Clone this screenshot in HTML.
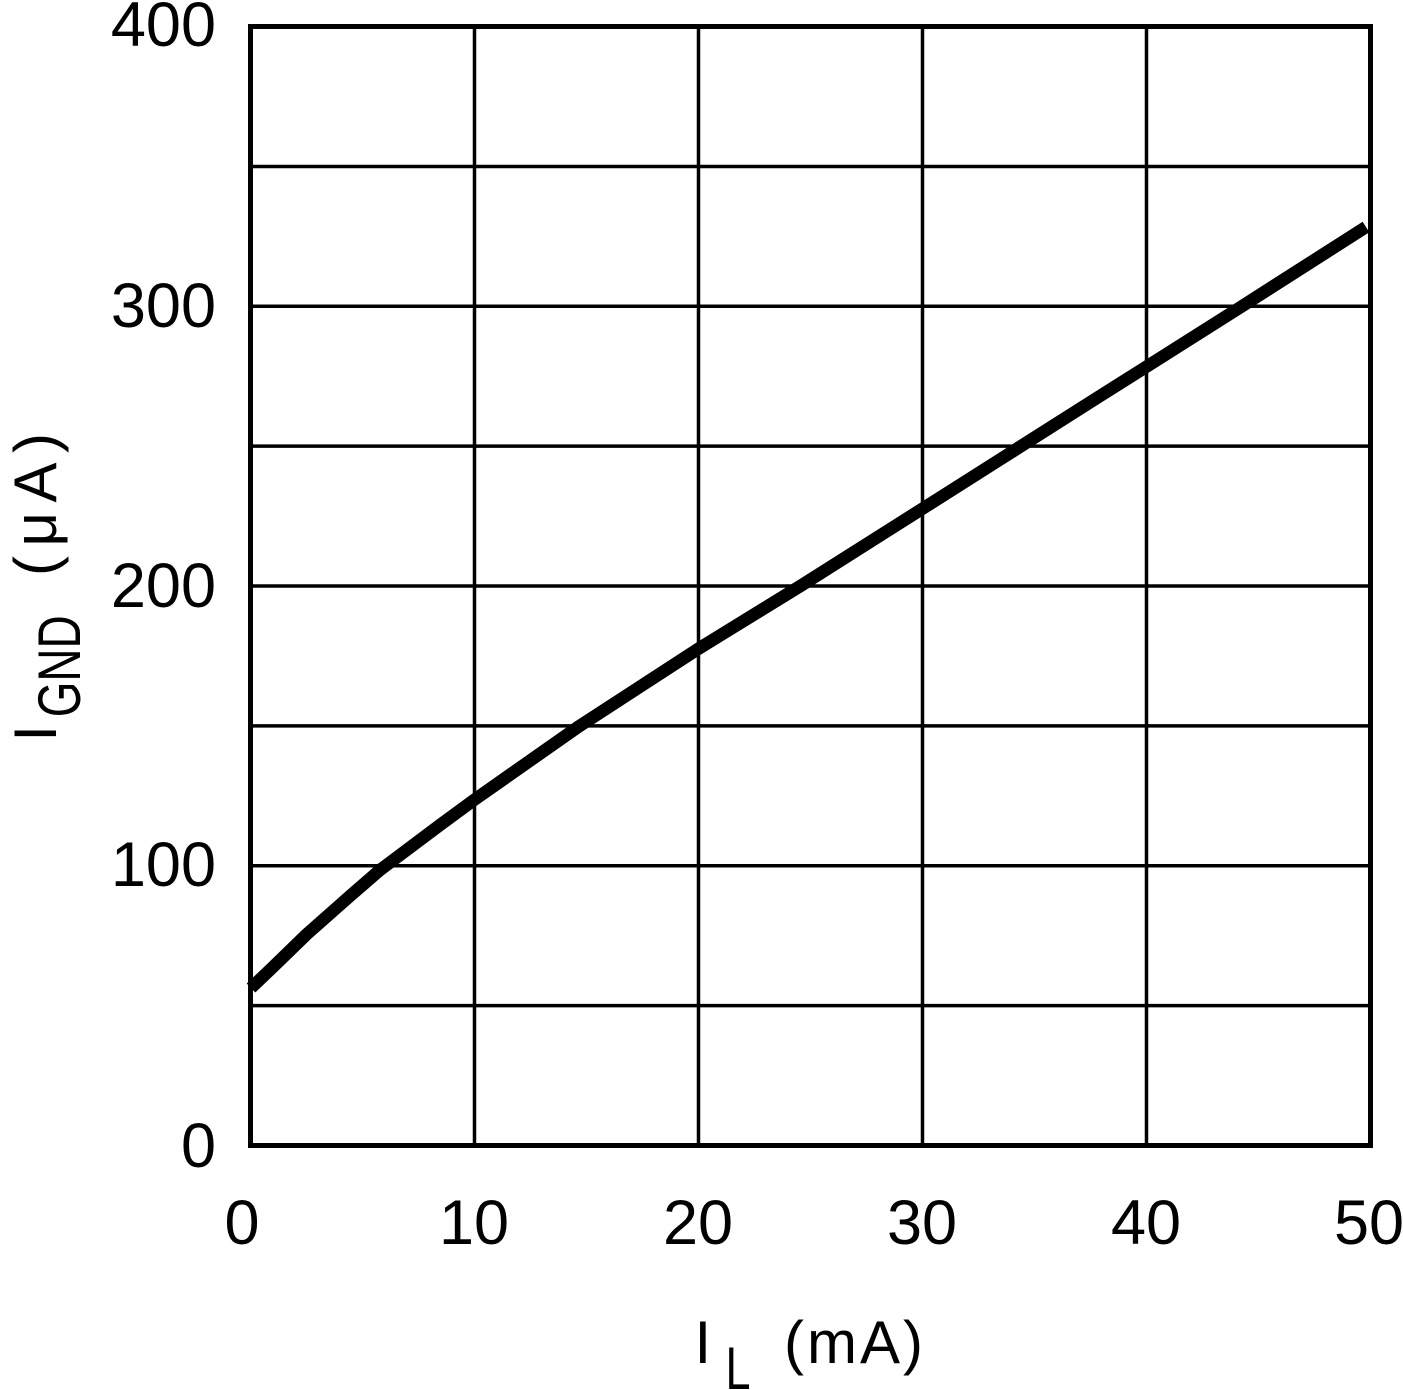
<!DOCTYPE html>
<html>
<head>
<meta charset="utf-8">
<style>
html,body{margin:0;padding:0;background:#fff;}
svg{display:block;}
text{font-family:"Liberation Sans", "DejaVu Sans", sans-serif;fill:#000;}
</style>
</head>
<body>
<svg width="1403" height="1390" viewBox="0 0 1403 1390" xmlns="http://www.w3.org/2000/svg">
<rect x="0" y="0" width="1403" height="1390" fill="#fff"/>
<!-- grid -->
<g stroke="#000" stroke-width="3.5" fill="none">
<line x1="250" y1="166.5" x2="1370" y2="166.5"/>
<line x1="250" y1="306.2" x2="1370" y2="306.2"/>
<line x1="250" y1="446.1" x2="1370" y2="446.1"/>
<line x1="250" y1="586" x2="1370" y2="586"/>
<line x1="250" y1="725.9" x2="1370" y2="725.9"/>
<line x1="250" y1="865.8" x2="1370" y2="865.8"/>
<line x1="250" y1="1005.6" x2="1370" y2="1005.6"/>
<line x1="474.5" y1="26" x2="474.5" y2="1146"/>
<line x1="698.5" y1="26" x2="698.5" y2="1146"/>
<line x1="922.5" y1="26" x2="922.5" y2="1146"/>
<line x1="1146.5" y1="26" x2="1146.5" y2="1146"/>
</g>
<rect x="250.5" y="26.5" width="1120" height="1119" fill="none" stroke="#000" stroke-width="5"/>
<!-- curve -->
<polyline fill="none" stroke="#000" stroke-width="12.5" stroke-linejoin="round" stroke-linecap="butt"
points="251,988 273,967 307,934 350,896 380,870 440,825 474,800 578,727 698,649 802,585 922,509 1000,459.5 1100,396 1146,367 1240,307.5 1366,227"/>
<!-- y tick labels -->
<g font-size="63" text-anchor="end">
<text x="216" y="46">400</text>
<text x="216" y="327">300</text>
<text x="216" y="607">200</text>
<text x="216" y="886">100</text>
<text x="216" y="1167">0</text>
</g>
<!-- x tick labels -->
<g font-size="63" text-anchor="middle">
<text x="242" y="1244">0</text>
<text x="474" y="1244">10</text>
<text x="698" y="1244">20</text>
<text x="922" y="1244">30</text>
<text x="1146" y="1244">40</text>
<text x="1369" y="1244">50</text>
</g>
<!-- x axis title -->
<g font-size="60">
<text x="694.5" y="1363">I</text>
<text x="725.5" y="1389" textLength="25" lengthAdjust="spacingAndGlyphs">L</text>
<text x="784" y="1363" textLength="139" lengthAdjust="spacing">(mA)</text>
</g>
<!-- y axis title -->
<g transform="translate(56,736) rotate(-90)" font-size="60">
<text x="-5.6" y="0">I</text>
<text x="18.7" y="24" textLength="102" lengthAdjust="spacingAndGlyphs">GND</text>
<text x="160" y="0" textLength="143" lengthAdjust="spacing">(μA)</text>
</g>
</svg>
</body>
</html>
